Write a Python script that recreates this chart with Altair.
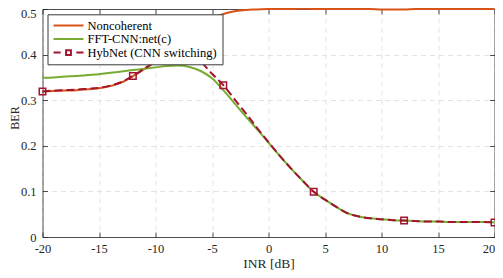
import altair as alt
import pandas as pd

# ---------------- data ----------------
inr = list(range(-20, 21))

noncoherent = [0.319, 0.320, 0.321, 0.322, 0.324, 0.326, 0.331, 0.339, 0.353, 0.368,
               0.385, 0.405, 0.427, 0.448, 0.466, 0.479, 0.489, 0.495, 0.498, 0.499,
               0.500, 0.500, 0.500, 0.501, 0.500, 0.500, 0.500, 0.500, 0.500, 0.500,
               0.499, 0.499, 0.499, 0.500, 0.500, 0.500, 0.500, 0.500, 0.500, 0.500, 0.500]

fft_cnn = [0.349, 0.350, 0.352, 0.353, 0.355, 0.357, 0.360, 0.363, 0.366, 0.369,
           0.372, 0.375, 0.376, 0.373, 0.364, 0.348, 0.322, 0.293, 0.264, 0.236,
           0.207, 0.178, 0.150, 0.124, 0.099, 0.082, 0.066, 0.052, 0.045, 0.041,
           0.039, 0.037, 0.036, 0.035, 0.034, 0.034, 0.033, 0.033, 0.033, 0.033, 0.032]

hybnet = [0.319, 0.321, 0.322, 0.323, 0.325, 0.327, 0.332, 0.340, 0.353, 0.369,
          0.384, 0.394, 0.397, 0.393, 0.384, 0.358, 0.333, 0.302, 0.271, 0.239,
          0.208, 0.178, 0.150, 0.124, 0.099, 0.082, 0.066, 0.052, 0.045, 0.041,
          0.039, 0.037, 0.036, 0.035, 0.034, 0.034, 0.033, 0.033, 0.033, 0.033, 0.032]

marker_inr = [-20, -12, -4, 4, 12, 20]

series_names = ["Noncoherent", "FFT-CNN:net(c)", "HybNet (CNN switching)"]
series_colors = ["#D95319", "#77AC30", "#A2142F"]

x_ticks = [-20, -15, -10, -5, 0, 5, 10, 15, 20]
y_ticks = [0, 0.1, 0.2, 0.3, 0.4, 0.5]

# ---------------- tables ----------------
rows = []
for name, vals in zip(series_names, [noncoherent, fft_cnn, hybnet]):
    for x, v in zip(inr, vals):
        rows.append({"inr": x, "ber": v, "series": name})
df = pd.DataFrame(rows)

markers = pd.DataFrame({
    "inr": marker_inr,
    "ber": [hybnet[inr.index(x)] for x in marker_inr],
    "series": series_names[2],
})

# ---------------- styling ----------------
FONT = "Liberation Serif"
TXT = "#262626"
W, H = 452, 228
HYB = series_names[2]
CRIMSON = series_colors[2]
HYB_SYMBOL = "M-1,0H-0.52M0.52,0H1M-0.16,-0.16H0.16V0.16H-0.16Z"

x_scale = alt.Scale(domain=[-20, 20], nice=False, zero=False)
y_scale = alt.Scale(domain=[0, 0.5], nice=False)
color_scale = alt.Scale(domain=series_names, range=series_colors)
shape_scale = alt.Scale(domain=series_names, range=["stroke", "stroke", HYB_SYMBOL])

legend = alt.Legend(
    title=None, orient="none", legendX=5, legendY=5.3,
    fillColor="white", strokeColor="#3a3a3a", padding=5, rowPadding=0.5,
    clipHeight=12.5, symbolType="stroke", symbolSize=900, symbolStrokeWidth=2,
    symbolOpacity=1, symbolFillColor=CRIMSON,
    labelFont=FONT, labelFontSize=12.5, labelColor="black", labelOffset=3,
    labelLimit=0,
)

main_x_axis = alt.Axis(
    values=x_ticks, labelExpr="'' + datum.value", ticks=False, tickSize=0,
    domain=False, grid=True, gridColor="#dcdcdc", gridDash=[5, 4], gridWidth=0.8,
    labelFont=FONT, labelFontSize=12.5, labelColor=TXT, labelPadding=5.5,
    labelFlush=False, labelOverlap=False,
    labelOffset={"condition": {"test": "datum.value === 20", "value": -6}, "value": 0},
    title="INR [dB]", titleFont=FONT, titleFontSize=13.5, titleFontWeight="normal",
    titleColor=TXT, titleX=W / 2, titleY=30.4, titleBaseline="alphabetic",
    titleAlign="center",
)
main_y_axis = alt.Axis(
    values=y_ticks,
    labelExpr="datum.value === 0 ? '0' : format(datum.value, '.1f')",
    ticks=False, tickSize=0, domain=False, grid=True, gridColor="#dcdcdc",
    gridDash=[5, 4], gridWidth=0.8,
    labelFont=FONT, labelFontSize=12.5, labelColor=TXT, labelPadding=6.5,
    labelFlush=False, labelOverlap=False,
    labelOffset={"condition": {"test": "datum.value === 0.5", "value": 4}, "value": 0},
    title="BER", titleFont=FONT, titleFontSize=12, titleFontWeight="normal",
    titleColor=TXT, titleAngle=270, titleX=-24, titleY=108.5,
    titleBaseline="alphabetic", titleAlign="center",
)


def tick_axis(orient, offset, values):
    return alt.Axis(orient=orient, offset=offset, values=values, labels=False,
                    domain=True, domainColor=TXT, domainWidth=0.8, grid=False,
                    ticks=True, tickSize=5, tickColor=TXT, tickWidth=0.8,
                    title=None)


base = alt.Chart(df)

lines = base.transform_filter(
    alt.FieldOneOfPredicate(field="series", oneOf=series_names[:2])
).mark_line(strokeWidth=2, interpolate="monotone").encode(
    x=alt.X("inr:Q", scale=x_scale, axis=main_x_axis),
    y=alt.Y("ber:Q", scale=y_scale, axis=main_y_axis),
    color=alt.Color("series:N", scale=color_scale, legend=legend),
)

hyb_line = base.transform_filter(
    alt.datum.series == HYB
).mark_line(strokeWidth=2, strokeDash=[8, 4], interpolate="monotone").encode(
    x=alt.X("inr:Q", scale=x_scale, axis=tick_axis("top", -H, x_ticks)),
    y=alt.Y("ber:Q", scale=y_scale, axis=tick_axis("right", -W, y_ticks)),
    color=alt.Color("series:N", scale=color_scale, legend=legend),
)

hyb_pts = alt.Chart(markers).mark_point(
    shape="square", filled=False, size=42, strokeWidth=1.5, color=CRIMSON, opacity=1
).encode(
    x=alt.X("inr:Q", scale=x_scale, axis=tick_axis("bottom", -H, x_ticks)),
    y=alt.Y("ber:Q", scale=y_scale, axis=tick_axis("left", -W, y_ticks)),
)

# legend-only layer (no data drawn): gives the legend its per-entry symbol shapes
legend_layer = base.transform_filter("false").mark_point(
    filled=False, strokeWidth=2
).encode(
    x=alt.X("inr:Q", scale=x_scale, axis=None),
    y=alt.Y("ber:Q", scale=y_scale, axis=None),
    color=alt.Color("series:N", scale=color_scale, legend=legend),
    shape=alt.Shape("series:N", scale=shape_scale, legend=legend),
)

chart = alt.layer(lines, hyb_line, hyb_pts, legend_layer).resolve_axis(
    x="independent", y="independent"
).properties(
    width=W, height=H,
    autosize=alt.AutoSizeParams(type="none"),
    padding={"left": 34.5, "top": 1, "right": 0.5, "bottom": 33},
).configure_view(stroke=None)

chart.save("out.html", embed_options={"renderer": "svg", "actions": False})
